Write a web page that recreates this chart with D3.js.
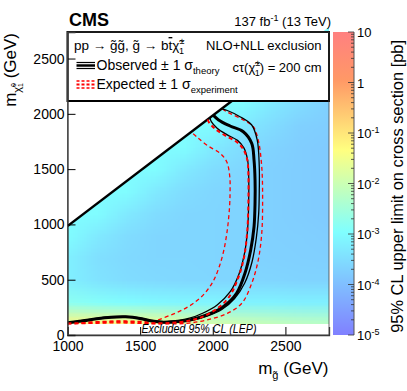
<!DOCTYPE html>
<html>
<head>
<meta charset="utf-8">
<script src="https://cdn.jsdelivr.net/npm/d3@7"></script>
<style>
    body { margin: 0; background: #fff; }
    svg { display: block; font-family: "Liberation Sans", Arial, sans-serif; }
</style>
</head>
<body>
<svg id="chart" width="407" height="391"></svg>
<script>
// grid of the heat map (log10 of the 95% CL limit in pb)
const gridX = [1000, 1200, 1400, 1600, 1800, 2000, 2200, 2400, 2600, 2800];
const gridY = [2700, 2500, 2300, 2100, 1900, 1700, 1500, 1300, 1100, 900, 700, 500, 300, 100];
const limitLog = [
    [-3.0, -3.0, -3.0, -3.0, -3.0, -3.0, -3.0, -3.0, -3.0, -3.0],
    [-3.0, -3.0, -3.0, -3.0, -3.0, -3.0, -3.0, -3.0, -3.0, -3.3],
    [-3.0, -3.0, -3.0, -3.0, -3.0, -3.0, -3.0, -3.0, -3.3, -3.5],
    [-3.0, -3.0, -3.0, -3.0, -3.0, -3.0, -3.0, -3.3, -3.5, -3.7],
    [-3.0, -3.0, -3.0, -3.0, -3.0, -3.0, -3.3, -3.5, -3.7, -3.75],
    [-3.0, -3.0, -3.0, -3.0, -3.0, -3.3, -3.5, -3.65, -3.75, -3.8],
    [-3.0, -3.0, -3.0, -3.0, -3.3, -3.5, -3.6, -3.7, -3.75, -3.8],
    [-3.0, -3.0, -3.0, -3.3, -3.5, -3.6, -3.65, -3.7, -3.75, -3.8],
    [-3.0, -3.0, -3.3, -3.5, -3.6, -3.62, -3.65, -3.7, -3.75, -3.8],
    [-3.0, -3.3, -3.5, -3.6, -3.62, -3.62, -3.65, -3.7, -3.72, -3.75],
    [-3.2, -3.45, -3.55, -3.6, -3.6, -3.62, -3.65, -3.68, -3.7, -3.72],
    [-3.2, -3.4, -3.5, -3.55, -3.58, -3.6, -3.6, -3.62, -3.65, -3.65],
    [-2.8, -2.9, -3.0, -3.05, -3.1, -3.1, -3.15, -3.15, -3.2, -3.2],
    [-1.25, -1.25, -1.35, -1.5, -1.7, -1.85, -1.95, -2.05, -2.15, -2.2]
];

// kinematic boundary and LEP chargino limit
const diagonal = [[1000, 985], [2800, 2785]];
const lepLimit = 100;

// exclusion contours [m_gluino, m_chi]
const obsCentral = [[1000,110],[1100,126],[1200,146],[1300,160],[1400,164],[1500,150],[1580,126],[1660,115],[1760,122],[1843,136],[1958,181],[2072,256],[2165,380],[2222,561],[2261,769],[2284,979],[2291,1200],[2291,1400],[2284,1582],[2268,1733],[2210,1838],[2119,1890],[2040,1945],[2003,1988]];
const obsUp = [[1000,108],[1200,144],[1300,158],[1400,161],[1500,147],[1580,123],[1660,111],[1760,115],[1860,134],[1960,170],[2060,228],[2150,330],[2220,470],[2270,660],[2300,880],[2316,1100],[2320,1300],[2320,1522],[2306,1763],[2268,1899],[2187,1974],[2100,2030],[2060,2045]];
const obsDown = [[1000,112],[1200,150],[1300,165],[1400,168],[1500,154],[1580,131],[1660,121],[1760,131],[1840,152],[1930,197],[2030,272],[2120,392],[2180,550],[2220,750],[2240,960],[2247,1200],[2247,1450],[2240,1580],[2215,1690],[2170,1760],[2100,1810],[2030,1870],[1990,1930],[1980,1965]];
const expCentral = [[1000,104],[1200,113],[1350,120],[1500,113],[1620,106],[1720,110],[1820,125],[1920,160],[2020,230],[2110,340],[2170,500],[2215,700],[2238,950],[2245,1200],[2245,1450],[2238,1580],[2210,1680],[2160,1750],[2090,1800],[2020,1860],[1975,1920],[1965,1950]];
const expUp = [[1000,100],[1200,106],[1350,110],[1500,105],[1650,100],[1820,106],[1960,136],[2100,196],[2200,287],[2268,467],[2313,678],[2337,919],[2343,1221],[2337,1522],[2313,1763],[2279,1883],[2210,1944],[2096,2019],[2062,2047]];
const expDown = [[1000,110],[1200,120],[1350,127],[1500,123],[1570,120],[1620,135],[1700,175],[1780,220],[1860,280],[1940,370],[2000,480],[2040,600],[2075,760],[2100,950],[2115,1150],[2119,1300],[2117,1431],[2096,1567],[2050,1643],[1958,1718],[1889,1793],[1850,1835]];

const xMajor = [1000, 1500, 2000, 2500];
const yMajor = [0, 500, 1000, 1500, 2000, 2500];
const zMajor = [1e-5, 1e-4, 1e-3, 1e-2, 1e-1, 1, 10];
const zLabels = [["10", "-5"], ["10", "-4"], ["10", "-3"], ["10", "-2"], ["10", "-1"], ["1", ""], ["10", ""]];

const svg = d3.select("#chart");

const x = d3.scaleLinear().domain([1000, 2800]).range([67.5, 329]);
const y = d3.scaleLinear().domain([0, 2740]).range([335, 32]);
const z = d3.scaleLog().domain([1e-5, 10]).range([335, 32]);

const paletteStops = [0, 0.34, 0.61, 0.84, 1];
const paletteColors = ["#8080ff", "#80ffff", "#ffff80", "#ff9966", "#ff8080"];
const palette = d3.scaleLinear().domain(paletteStops).range(paletteColors).clamp(true);

const defs = svg.append("defs");

defs.append("clipPath").attr("id", "plotClip")
    .append("rect")
    .attr("x", x(1000)).attr("y", y(2740))
    .attr("width", x(2800) - x(1000)).attr("height", y(0) - y(2740));

defs.append("clipPath").attr("id", "mapClip")
    .append("polygon")
    .attr("points", [
        [x(diagonal[0][0]), y(lepLimit)],
        [x(diagonal[1][0]), y(lepLimit)],
        [x(diagonal[1][0]), y(diagonal[1][1])],
        [x(diagonal[0][0]), y(diagonal[0][1])]
    ].map(p => p.join(",")).join(" "));

function drawHeatMap() {
    const canvas = document.createElement("canvas");
    canvas.width = gridX.length;
    canvas.height = gridY.length;
    const ctx = canvas.getContext("2d");
    const img = ctx.createImageData(canvas.width, canvas.height);

    limitLog.forEach((row, j) => {
        row.forEach((v, i) => {
            const c = d3.rgb(palette((v + 5) / 6));
            const k = (j * canvas.width + i) * 4;
            img.data[k] = c.r;
            img.data[k + 1] = c.g;
            img.data[k + 2] = c.b;
            img.data[k + 3] = 255;
        });
    });
    ctx.putImageData(img, 0, 0);

    const half = 100;
    svg.append("g")
        .attr("clip-path", "url(#mapClip)")
        .append("image")
        .attr("href", canvas.toDataURL())
        .attr("preserveAspectRatio", "none")
        .attr("x", x(gridX[0] - half))
        .attr("y", y(gridY[0] + half))
        .attr("width", x(gridX[gridX.length - 1] + half) - x(gridX[0] - half))
        .attr("height", y(gridY[gridY.length - 1] - half) - y(gridY[0] + half));
}

function drawContours() {
    const g = svg.append("g").attr("clip-path", "url(#plotClip)");
    const line = d3.line()
        .x(d => x(d[0]))
        .y(d => y(d[1]))
        .curve(d3.curveCatmullRom.alpha(0.5));

    g.append("path").datum(diagonal)
        .attr("d", line).attr("fill", "none")
        .attr("stroke", "#000").attr("stroke-width", 2.5);

    const curves = [
        { data: expDown, color: "#ff0000", width: 1.3, dash: "4,3" },
        { data: expUp, color: "#ff0000", width: 1.3, dash: "4,3" },
        { data: obsDown, color: "#000", width: 1.3, dash: null },
        { data: obsUp, color: "#000", width: 1.3, dash: null },
        { data: obsCentral, color: "#000", width: 3, dash: null },
        { data: expCentral, color: "#ff0000", width: 2, dash: "4,3" }
    ];

    curves.forEach(c => {
        g.append("path").datum(c.data)
            .attr("d", line)
            .attr("fill", "none")
            .attr("stroke", c.color)
            .attr("stroke-width", c.width)
            .attr("stroke-dasharray", c.dash);
    });

    svg.append("text")
        .attr("x", 141.5).attr("y", 332.5)
        .attr("font-size", 12).attr("font-style", "italic")
        .attr("textLength", 115).attr("lengthAdjust", "spacingAndGlyphs")
        .text("Excluded 95% CL (LEP)");
}

function drawLegend() {
    const g = svg.append("g");
    g.append("rect")
        .attr("x", x(1000)).attr("y", 32)
        .attr("width", x(2800) - x(1000)).attr("height", 69)
        .attr("fill", "#fff").attr("stroke", "#000").attr("stroke-width", 2);

    const t1 = g.append("text").attr("x", 74).attr("y", 50).attr("font-size", 13.5);
    t1.append("tspan").text("pp \u2192 g\u0303g\u0303, g\u0303 \u2192 b");
    t1.append("tspan").style("text-decoration", "overline").text("t");
    t1.append("tspan").text("\u03c7\u0303");
    t1.append("tspan").attr("font-size", 9).attr("dy", -6).text("\u00b1");
    t1.append("tspan").attr("font-size", 9).attr("dx", -5.5).attr("dy", 10).text("1");

    g.append("text").attr("x", 321.5).attr("y", 50).attr("font-size", 13)
        .attr("text-anchor", "end").text("NLO+NLL exclusion");

    const t2 = g.append("text").attr("x", 321.5).attr("y", 71.5).attr("font-size", 13)
        .attr("text-anchor", "end");
    t2.append("tspan").text("c\u03c4(\u03c7\u0303");
    t2.append("tspan").attr("font-size", 9).attr("dy", -6).text("\u00b1");
    t2.append("tspan").attr("font-size", 9).attr("dx", -5.5).attr("dy", 10).text("1");
    t2.append("tspan").attr("dy", -4).text(") = 200 cm");

    [62.5, 68.5].forEach(yy => {
        g.append("line").attr("x1", 76.5).attr("x2", 95).attr("y1", yy).attr("y2", yy)
            .attr("stroke", "#000").attr("stroke-width", 1.2);
    });
    g.append("line").attr("x1", 76.5).attr("x2", 95).attr("y1", 65.5).attr("y2", 65.5)
        .attr("stroke", "#000").attr("stroke-width", 2.5);

    [81, 84.5, 88].forEach((yy, i) => {
        g.append("line").attr("x1", 76.5).attr("x2", 95).attr("y1", yy).attr("y2", yy)
            .attr("stroke", "#ff0000").attr("stroke-width", i === 1 ? 2 : 1.5)
            .attr("stroke-dasharray", "3,2");
    });

    const t3 = g.append("text").attr("x", 96.5).attr("y", 70).attr("font-size", 14);
    t3.append("tspan").text("Observed \u00b1 1 \u03c3");
    t3.append("tspan").attr("font-size", 9.5).attr("dy", 4).text("theory");

    const t4 = g.append("text").attr("x", 96.5).attr("y", 89).attr("font-size", 14);
    t4.append("tspan").text("Expected \u00b1 1 \u03c3");
    t4.append("tspan").attr("font-size", 9.5).attr("dy", 4).text("experiment");
}

function drawAxes() {
    const xAxis = svg.append("g").attr("transform", `translate(0,${y(0)})`);
    xAxis.call(d3.axisBottom(x).tickValues(d3.range(1000, 2801, 100)).tickSize(-4).tickFormat(""));
    xAxis.call(d3.axisBottom(x).tickValues(xMajor).tickSize(-8).tickPadding(6).tickFormat(d3.format("d")));
    xAxis.selectAll("text").attr("font-size", 14).attr("fill", "#000").attr("font-family", null);

    const yAxis = svg.append("g").attr("transform", `translate(${x(1000)},0)`);
    yAxis.call(d3.axisLeft(y).tickValues(d3.range(0, 2701, 100)).tickSize(-4).tickFormat(""));
    yAxis.call(d3.axisLeft(y).tickValues(yMajor).tickSize(-8).tickPadding(3).tickFormat(d3.format("d")));
    yAxis.selectAll("text").attr("font-size", 14).attr("fill", "#000").attr("font-family", null);

    svg.selectAll(".domain").attr("stroke", "#333").attr("stroke-width", 1.3);
    svg.selectAll(".tick line").attr("stroke", "#000");

    svg.append("rect")
        .attr("x", x(1000)).attr("y", y(2740))
        .attr("width", x(2800) - x(1000)).attr("height", y(0) - y(2740))
        .attr("fill", "none").attr("stroke", "#444").attr("stroke-width", 0.8);

    const xt = svg.append("text").attr("x", 328.5).attr("y", 374)
        .attr("font-size", 17).attr("text-anchor", "end");
    xt.append("tspan").text("m");
    xt.append("tspan").attr("font-size", 11).attr("dy", 5).text("g\u0303");
    xt.append("tspan").attr("dy", -5).text(" (GeV)");

    const yt = svg.append("text")
        .attr("transform", "translate(16,33) rotate(-90)")
        .attr("font-size", 17).attr("text-anchor", "end");
    yt.append("tspan").text("m");
    yt.append("tspan").attr("font-size", 11).attr("dy", 5).text("\u03c7\u0303");
    yt.append("tspan").attr("font-size", 7).attr("dy", -5).text("0");
    yt.append("tspan").attr("font-size", 7).attr("dx", -4).attr("dy", 7).text("1");
    yt.append("tspan").attr("dy", -7).text(" (GeV)");

    svg.append("text").attr("x", 69).attr("y", 26)
        .attr("font-size", 18).attr("font-weight", "bold").text("CMS");

    const lumi = svg.append("text").attr("x", 331).attr("y", 25.5)
        .attr("font-size", 13).attr("text-anchor", "end");
    lumi.append("tspan").text("137 fb");
    lumi.append("tspan").attr("font-size", 9).attr("dy", -5).text("-1");
    lumi.append("tspan").attr("dy", 5).text(" (13 TeV)");
}

function drawColorBar() {
    const grad = defs.append("linearGradient").attr("id", "zGrad")
        .attr("x1", 0).attr("y1", 1).attr("x2", 0).attr("y2", 0);
    paletteStops.forEach((s, i) => {
        grad.append("stop").attr("offset", s).attr("stop-color", paletteColors[i]);
    });

    const x0 = 333, x1 = 354;
    svg.append("rect")
        .attr("x", x0).attr("y", z(10))
        .attr("width", x1 - x0).attr("height", z(1e-5) - z(10))
        .attr("fill", "url(#zGrad)");

    svg.append("line").attr("x1", x1).attr("x2", x1)
        .attr("y1", z(10)).attr("y2", z(1e-5))
        .attr("stroke", "#555").attr("stroke-width", 1);

    const minor = [];
    zMajor.slice(0, -1).forEach(d => {
        for (let k = 2; k <= 9; k++) minor.push(d * k);
    });
    svg.selectAll(".zminor").data(minor).enter().append("line")
        .attr("x1", x1 - 3).attr("x2", x1)
        .attr("y1", d => z(d)).attr("y2", d => z(d))
        .attr("stroke", "#333").attr("stroke-width", 0.8);
    svg.selectAll(".zmajor").data(zMajor).enter().append("line")
        .attr("x1", x1 - 6).attr("x2", x1)
        .attr("y1", d => z(d)).attr("y2", d => z(d))
        .attr("stroke", "#333").attr("stroke-width", 0.8);

    zMajor.forEach((d, i) => {
        const t = svg.append("text").attr("x", 357).attr("y", z(d) + 5)
            .attr("font-size", 13);
        t.append("tspan").text(zLabels[i][0]);
        if (zLabels[i][1]) {
            t.append("tspan").attr("font-size", 9).attr("dy", -5).text(zLabels[i][1]);
        }
    });

    svg.append("text")
        .attr("transform", "translate(403,40) rotate(-90)")
        .attr("font-size", 16.4).attr("text-anchor", "end")
        .text("95% CL upper limit on cross section [pb]");
}

drawHeatMap();
drawContours();
drawLegend();
drawAxes();
drawColorBar();
</script>
</body>
</html>
